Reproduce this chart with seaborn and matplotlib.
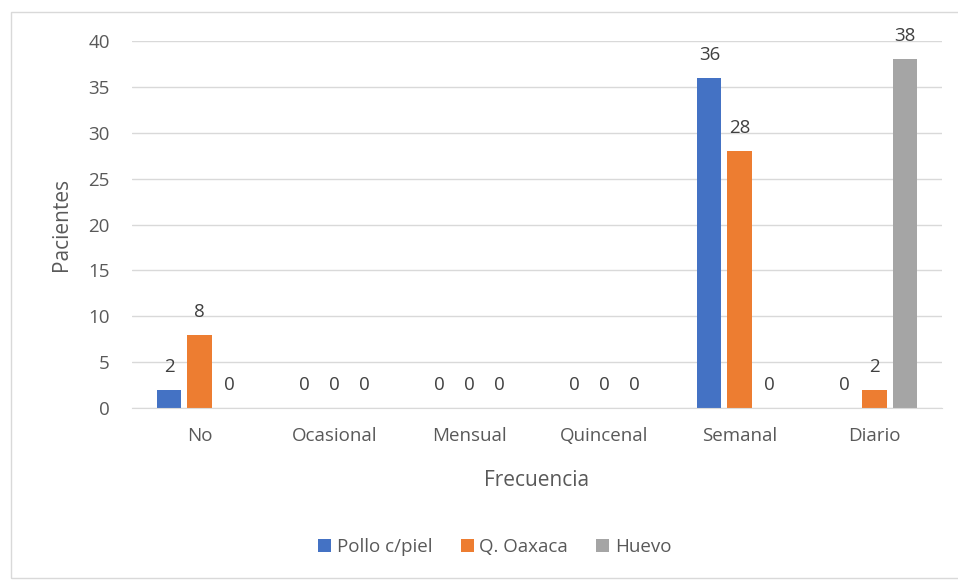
import pandas as pd
import matplotlib.pyplot as plt
import seaborn as sns
from matplotlib.patches import Rectangle

categories = ['No', 'Ocasional', 'Mensual', 'Quincenal', 'Semanal', 'Diario']
series = ['Pollo c/piel', 'Q. Oaxaca', 'Huevo']
pollo = [2, 0, 0, 0, 36, 0]
oaxaca = [8, 0, 0, 0, 28, 2]
huevo = [0, 0, 0, 0, 0, 38]
colors = ['#4472C4', '#ED7D31', '#A5A5A5']

df = pd.DataFrame({
    'Frecuencia': categories * 3,
    'Pacientes': pollo + oaxaca + huevo,
    'tipo': [s for s in series for _ in categories],
})

sns.set_style('white')
plt.rcParams['font.family'] = ['Open Sans', 'DejaVu Sans']
txt = '#595959'

fig, ax = plt.subplots(figsize=(9.58, 5.81), dpi=100)
fig.subplots_adjust(left=132/958, right=942/958, top=1-41/581, bottom=1-408/581)

sns.barplot(data=df, x='Frecuencia', y='Pacientes', hue='tipo', palette=colors,
            width=0.67, gap=0.2, ax=ax, saturation=1, linewidth=0)

for c in ax.containers:
    ax.bar_label(c, padding=10, fontsize=13.5, color='#404040')

ax.set_ylim(0, 40)
ax.set_yticks(range(0, 41, 5))
ax.grid(axis='y', color='#d9d9d9', linewidth=1)
ax.set_axisbelow(True)
for s in ['left', 'right', 'top']:
    ax.spines[s].set_visible(False)
ax.spines['bottom'].set_color('#d9d9d9')
ax.tick_params(length=0, labelsize=13.5, labelcolor=txt)
ax.tick_params(axis='y', pad=16)
ax.tick_params(axis='x', pad=14)
ax.set_xlabel('Frecuencia', fontsize=15, color=txt, labelpad=18)
ax.set_ylabel('Pacientes', fontsize=15, color=txt, labelpad=12)

ax.legend(loc='center', bbox_to_anchor=(0.448, -0.38), ncol=3, frameon=False,
          fontsize=13.5, labelcolor=txt, handlelength=0.7, handleheight=0.7,
          handletextpad=0.3, columnspacing=1.5, title=None)

fig.patches.append(Rectangle((11/958, 3/581), 1.0, 1-15/581, transform=fig.transFigure,
                             fill=False, edgecolor='#d9d9d9', linewidth=1))

plt.savefig('out.png', dpi=100)
